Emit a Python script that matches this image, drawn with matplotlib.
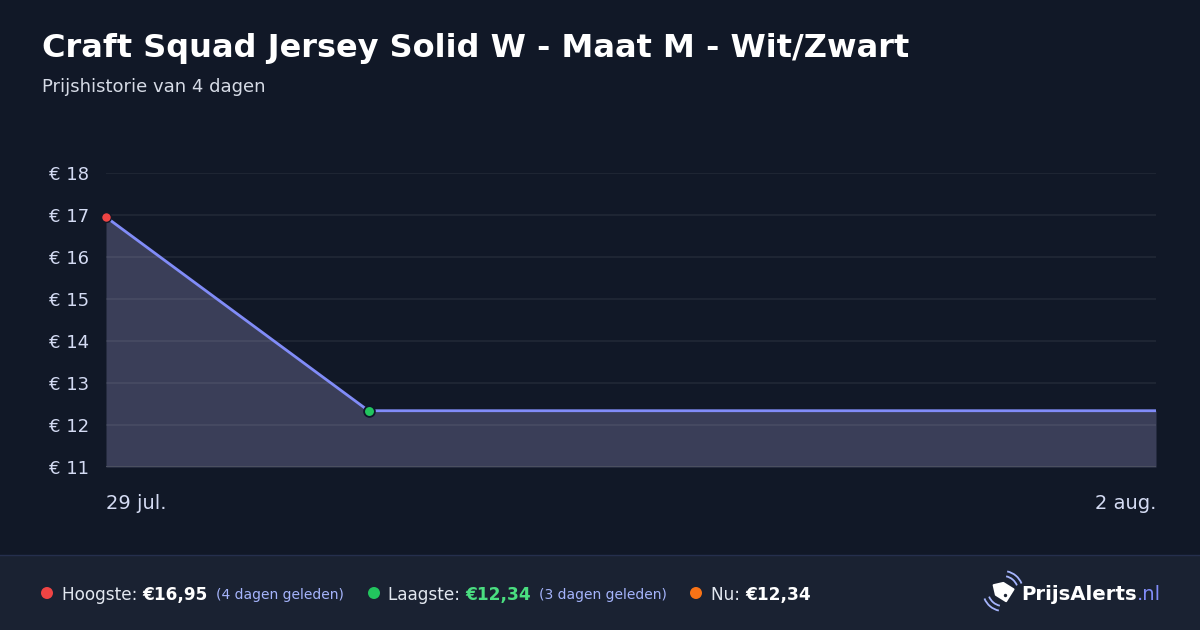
import datetime
import numpy as np
import matplotlib
matplotlib.use("Agg")
import matplotlib.pyplot as plt
import matplotlib.dates as mdates
from matplotlib.patches import Polygon, Arc, Rectangle, Circle

plt.rcParams['font.family'] = ['DejaVu Sans']

# data
dates = [datetime.date(2025, 7, 29), datetime.date(2025, 7, 30), datetime.date(2025, 8, 2)]
prices = [16.95, 12.34, 12.34]
y_ticks = [11, 12, 13, 14, 15, 16, 17, 18]
x_tick_labels = ["29 jul.", "2 aug."]

title = "Craft Squad Jersey Solid W - Maat M - Wit/Zwart"
subtitle = "Prijshistorie van 4 dagen"

BG = "#111827"
FOOT = "#1a2232"
LINE = "#818cf8"
FILL = "#3a3e58"
TICK = "#d4dbf3"

W, H = 1200, 630
fig = plt.figure(figsize=(12, 6.3), dpi=100, facecolor=BG)


def fx(x):
    return x / W


def fy(y):
    return 1 - y / H


# footer band
fig.patches.append(Rectangle((0, 0), 1, fy(555), transform=fig.transFigure,
                             facecolor=FOOT, edgecolor="none", zorder=0))
fig.add_artist(plt.Line2D([0, 1], [fy(554.5), fy(554.5)], transform=fig.transFigure,
                          color="#252f4d", lw=1))

fig.text(fx(42), fy(48), title, color="white", fontsize=23, fontweight="bold",
         va="center", ha="left")
fig.text(fx(42), fy(87), subtitle, color="#d6dbe6", fontsize=13, va="center", ha="left")

ax = fig.add_axes([fx(106), fy(467), fx(1156) - fx(106), fy(173) - fy(467)])
ax.set_facecolor(BG)
ax.set_xlim(mdates.date2num(dates[0]), mdates.date2num(dates[-1]))
ax.set_ylim(11, 18)

xs = mdates.date2num(dates)
ax.fill_between(xs, prices, 11, color=FILL, lw=0, zorder=1)
for t in y_ticks[1:]:
    ax.axhline(t, color="white", alpha=0.06, lw=1.5, zorder=2)
ax.axhline(11, color="#4b5060", lw=1.5, zorder=2)
ax.plot(xs, prices, color=LINE, lw=2, zorder=3, solid_capstyle="butt")
ax.scatter([xs[0]], [prices[0]], s=50, color="#ef4444", edgecolor=BG, lw=1.0, zorder=4, clip_on=False)
ax.scatter([xs[1]], [prices[1]], s=60, color="#22c55e", edgecolor="#0f172a", lw=1.3, zorder=4, clip_on=False)

for s in ax.spines.values():
    s.set_visible(False)
ax.set_yticks(y_ticks)
ax.set_yticklabels([f"€ {t}" for t in y_ticks])
ax.tick_params(axis="y", length=0, pad=12.5, labelsize=13, labelcolor=TICK)
ax.set_xticks([])
ax.text(0, -0.124, x_tick_labels[0], transform=ax.transAxes, ha="left", va="center",
        color=TICK, fontsize=14)
ax.text(1, -0.124, x_tick_labels[1], transform=ax.transAxes, ha="right", va="center",
        color=TICK, fontsize=14)

# footer legend
fig.canvas.draw()
renderer = fig.canvas.get_renderer()
fy_mid = fy(593)


def put(x, s, color, size, weight="normal"):
    t = fig.text(fx(x), fy_mid, s, color=color, fontsize=size, fontweight=weight,
                 va="center_baseline", ha="left")
    bb = t.get_window_extent(renderer)
    return bb.x1


def dot(x, color):
    fig.patches.append(Circle((x, H - 593), 6, transform=None, facecolor=color,
                              edgecolor="none"))


dot(47, "#ef4444")
x = put(62, "Hoogste: ", "#e2e8f0", 12.2)
x = put(x, "€16,95", "white", 12.2, "bold")
put(x + 8, "(4 dagen geleden)", "#a5b4fc", 10)

dot(374, "#22c55e")
x = put(388, "Laagste: ", "#e2e8f0", 12.2)
x = put(x, "€12,34", "#4ade80", 12.2, "bold")
put(x + 8, "(3 dagen geleden)", "#a5b4fc", 10)

dot(696, "#f97316")
x = put(711, "Nu: ", "#e2e8f0", 12.2)
put(x, "€12,34", "white", 12.2, "bold")

# logo
x = put(1021, "PrijsAlerts", "white", 14.2, "bold")
put(x, ".nl", LINE, 14.2)
cx, cy = 1003, H - 591
ang = np.deg2rad(-32)
rot = np.array([[np.cos(ang), -np.sin(ang)], [np.sin(ang), np.cos(ang)]])
local = np.array([(-11, 0), (-4, 7), (8, 7), (8, -7), (-4, -7)], dtype=float)
pts = local @ rot.T + [cx, cy]
fig.patches.append(Polygon(pts, closed=True, transform=None, facecolor="white",
                           edgecolor="white", lw=1.5, joinstyle="round"))
hole = np.array([4.5, -2.5]) @ rot.T + [cx, cy]
fig.patches.append(Circle(hole, 1.7, transform=None, facecolor=FOOT, edgecolor="none"))
for r in (15, 20):
    fig.patches.append(Arc((cx, cy), r * 2, r * 2, theta1=22, theta2=78, transform=None,
                           color="#a5b4fc", lw=1.3))
    fig.patches.append(Arc((cx, cy), r * 2, r * 2, theta1=202, theta2=258, transform=None,
                           color="#a5b4fc", lw=1.3))

fig.savefig("out.png", dpi=100, facecolor=BG)
